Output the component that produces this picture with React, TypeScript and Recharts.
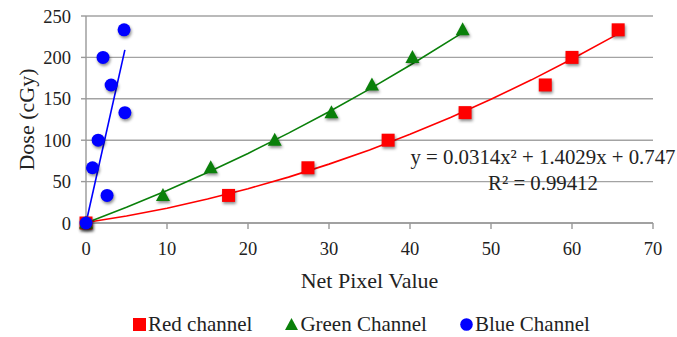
import React from 'react'
import { ScatterChart, Scatter, XAxis, YAxis, CartesianGrid } from 'recharts'

// dose steps shared by the three channels
const DOSES = [0, 33.3, 66.7, 100, 133.3, 166.7, 200, 233.3]
const RED_PIXELS = [0, 17.6, 27.4, 37.3, 46.8, 56.7, 60, 65.7]
const GREEN_PIXELS = [0, 9.5, 15.4, 23.3, 30.3, 35.3, 40.3, 46.5]
const BLUE_PIXELS = [0, 2.6, 0.8, 1.5, 4.8, 3.1, 2.1, 4.7]

// trendlines, points
const RED_TREND_X = [0, 5, 10, 15, 20, 25, 30, 35, 40, 45, 50, 55, 60, 65.7]
const RED_TREND_Y = [0.7, 8.5, 17.9, 28.9, 41.4, 55.4, 71.1, 88.3, 107.1, 127.5, 149.4, 172.9, 198, 228.4]
const GREEN_TREND_X = [0, 5, 10, 15, 20, 25, 30, 35, 40, 46.5]
const GREEN_TREND_Y = [0, 18.9, 39.2, 60.9, 84, 108.5, 134.4, 161.7, 190.5, 230]
const BLUE_TREND_X = [0, 4.8]
const BLUE_TREND_Y = [0, 209]

const X_TICKS = [0, 10, 20, 30, 40, 50, 60, 70]
const Y_TICKS = [0, 50, 100, 150, 200, 250]

const EQUATION = 'y = 0.0314x\u00b2 + 1.4029x + 0.747'
const R_SQUARED = 'R\u00b2 = 0.99412'

const RED = '#ff0000'
const GREEN = '#0a800a'
const BLUE = '#0000ff'
const FONT = '"Liberation Serif", "Times New Roman", serif'
const SHADOW = 'drop-shadow(1px 2px 1.5px rgba(0,0,0,0.45))'

const toPoints = (xs: number[], ys: number[]) => xs.map((x, i) => ({ x, y: ys[i] }))

const redData = toPoints(RED_PIXELS, DOSES)
const greenData = toPoints(GREEN_PIXELS, DOSES)
const blueData = toPoints(BLUE_PIXELS, DOSES)

const Square = (props: any) => (
  <rect x={props.cx - 6.5} y={props.cy - 6.5} width={13} height={13} fill={RED} style={{ filter: SHADOW }} />
)
const Triangle = (props: any) => (
  <path
    d={`M${props.cx},${props.cy - 7.5} L${props.cx + 7},${props.cy + 5.5} L${props.cx - 7},${props.cy + 5.5} Z`}
    fill={GREEN}
    style={{ filter: SHADOW }}
  />
)
const Dot = (props: any) => (
  <circle cx={props.cx} cy={props.cy} r={6.5} fill={BLUE} style={{ filter: SHADOW }} />
)
const NoMarker = () => <g />

const legendItems = [
  { label: 'Red channel', icon: <rect x={0} y={0} width={13} height={13} fill={RED} /> },
  { label: 'Green Channel', icon: <path d="M6.5,0 L13,12 L0,12 Z" fill={GREEN} /> },
  { label: 'Blue Channel', icon: <circle cx={6.5} cy={6.5} r={6.3} fill={BLUE} /> },
]

export default function App() {
  return (
    <div style={{ position: 'absolute', left: 0, top: 0, width: 677, height: 337, background: '#fff', fontFamily: FONT }}>
      <ScatterChart width={677} height={337} margin={{ top: 16, right: 24, bottom: 84, left: 0 }}>
        <CartesianGrid horizontal vertical={false} stroke="#a3a3a3" strokeWidth={1.4} />
        <XAxis
          type="number"
          dataKey="x"
          domain={[0, 70]}
          ticks={X_TICKS}
          height={30}
          stroke="#999"
          strokeWidth={1.4}
          tickSize={6}
          tickMargin={13}
          tick={{ fontSize: 18.5, fill: '#222', fontFamily: FONT }}
          label={{
            value: 'Net Pixel Value',
            position: 'bottom',
            offset: 19,
            style: { fontSize: 22, fill: '#222', fontFamily: FONT },
          }}
        />
        <YAxis
          type="number"
          dataKey="y"
          domain={[0, 250]}
          ticks={Y_TICKS}
          width={86}
          stroke="#999"
          strokeWidth={1.4}
          tickSize={5}
          tickMargin={10}
          tick={{ fontSize: 18.5, fill: '#222', fontFamily: FONT }}
          label={(p: any) => {
            const vb = p.viewBox
            const cy = vb.y + vb.height / 2
            return (
              <text
                x={26}
                y={cy}
                transform={`rotate(-90, 26, ${cy})`}
                textAnchor="middle"
                dominantBaseline="central"
                fontSize={22}
                fill="#222"
                fontFamily={FONT}
              >
                Dose (cGy)
              </text>
            )
          }}
        />
        <Scatter
          data={toPoints(RED_TREND_X, RED_TREND_Y)}
          line={{ stroke: RED, strokeWidth: 1.6 }}
          lineType="joint"
          shape={NoMarker}
          isAnimationActive={false}
        />
        <Scatter
          data={toPoints(GREEN_TREND_X, GREEN_TREND_Y)}
          line={{ stroke: GREEN, strokeWidth: 1.6 }}
          lineType="joint"
          shape={NoMarker}
          isAnimationActive={false}
        />
        <Scatter
          data={toPoints(BLUE_TREND_X, BLUE_TREND_Y)}
          line={{ stroke: BLUE, strokeWidth: 1.6 }}
          lineType="joint"
          shape={NoMarker}
          isAnimationActive={false}
        />
        <Scatter data={redData} shape={Square} isAnimationActive={false} />
        <Scatter data={greenData} shape={Triangle} isAnimationActive={false} />
        <Scatter data={blueData} shape={Dot} isAnimationActive={false} />
      </ScatterChart>

      <div
        style={{
          position: 'absolute',
          left: 543,
          top: 144,
          transform: 'translateX(-50%)',
          textAlign: 'center',
          fontSize: 20.8,
          lineHeight: '26px',
          color: '#222',
          whiteSpace: 'nowrap',
        }}
      >
        <div>{EQUATION}</div>
        <div>{R_SQUARED}</div>
      </div>

      <div
        style={{
          position: 'absolute',
          left: 133,
          top: 311,
          display: 'flex',
          alignItems: 'center',
          gap: 33,
          fontSize: 21,
          lineHeight: '26px',
          color: '#222',
          whiteSpace: 'nowrap',
        }}
      >
        {legendItems.map(item => (
          <div key={item.label} style={{ display: 'flex', alignItems: 'center' }}>
            <svg width={13} height={13} style={{ marginRight: 2 }}>
              {item.icon}
            </svg>
            <span>{item.label}</span>
          </div>
        ))}
      </div>
    </div>
  )
}
